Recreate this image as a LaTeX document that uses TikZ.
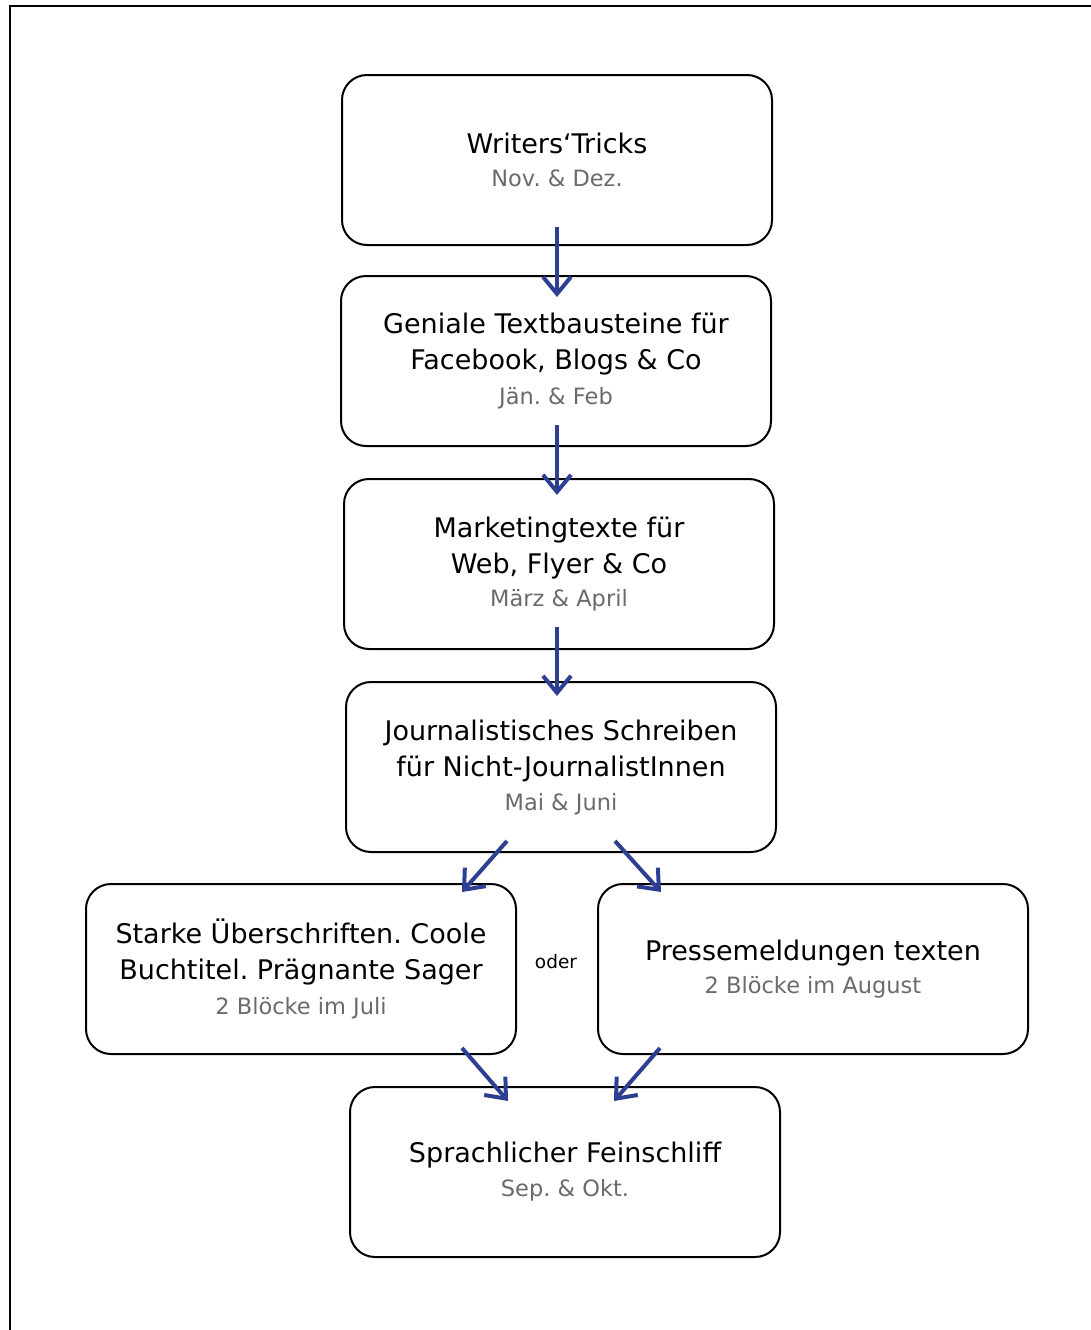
\documentclass[tikz,border=0pt]{standalone}
\usepackage{fontspec}
\setmainfont{DejaVu Sans}
\usetikzlibrary{arrows.meta}
\definecolor{flowblue}{HTML}{2E3F93}
\definecolor{monthgrey}{HTML}{6A6A6A}
\newcommand{\months}[1]{{\color{monthgrey}\fontsize{22.5}{34}\selectfont #1}}
\frenchspacing

\begin{document}
\begin{tikzpicture}
[x=1pt, y=-1pt,
 every node/.style={inner sep=0pt},
 course/.style={draw=black, line width=2pt, rounded corners=25pt, minimum width=430pt, minimum height=170pt, align=center, font=\fontsize{27}{36}\selectfont},
 flow/.style={line width=4pt, draw=flowblue, -{Straight Barb[length=17pt, width=28pt]}}]
\useasboundingbox (0, 0) rectangle (1091, 1330);
\draw [line width=2.5pt] (10, 1330) -- (10, 6) -- (1091, 6);
\node (wt) [course] at (557, 160) {Writers‘Tricks\\[-3pt]\months{Nov. \& Dez.}};
\node (gt) [course] at (556, 361) {Geniale Textbausteine für\\Facebook, Blogs \& Co\\[-1pt]\months{Jän. \& Feb}};
\node (mt) [course] at (559, 564) {Marketingtexte für\\Web, Flyer \& Co\\[-3pt]\months{März \& April}};
\node (js) [course] at (561, 767) {Journalistisches Schreiben\\für Nicht-JournalistInnen\\[-2pt]\months{Mai \& Juni}};
\node (su) [course] at (301, 969) {Starke Überschriften. Coole\\Buchtitel. Prägnante Sager\\[-1pt]\months{2 Blöcke im Juli}};
\node (pm) [course] at (813, 969) {Pressemeldungen texten\\[-3pt]\months{2 Blöcke im August}};
\node (sf) [course] at (565, 1172) {Sprachlicher Feinschliff\\[-2pt]\months{Sep. \& Okt.}};
\node (oder) [font=\fontsize{18.5}{22}\selectfont] at (556, 962) {oder};
\draw [flow] ([yshift=19pt]wt.south) -- ([xshift=1pt, yshift=-22pt]gt.north);
\draw [flow] ([xshift=1pt, yshift=22pt]gt.south) -- ([xshift=-2pt, yshift=-17pt]mt.north);
\draw [flow] ([xshift=-2pt, yshift=23pt]mt.south) -- ([xshift=-4pt, yshift=-15pt]js.north);
\draw [flow] ([xshift=-54pt, yshift=12pt]js.south) -- ([xshift=161pt, yshift=-9pt]su.north);
\draw [flow] ([xshift=54pt, yshift=12pt]js.south) -- ([xshift=-152pt, yshift=-9pt]pm.north);
\draw [flow] ([xshift=161pt, yshift=7pt]su.south) -- ([xshift=-57pt, yshift=-15pt]sf.north);
\draw [flow] ([xshift=-153pt, yshift=7pt]pm.south) -- ([xshift=49pt, yshift=-15pt]sf.north);
\end{tikzpicture}
\end{document}
